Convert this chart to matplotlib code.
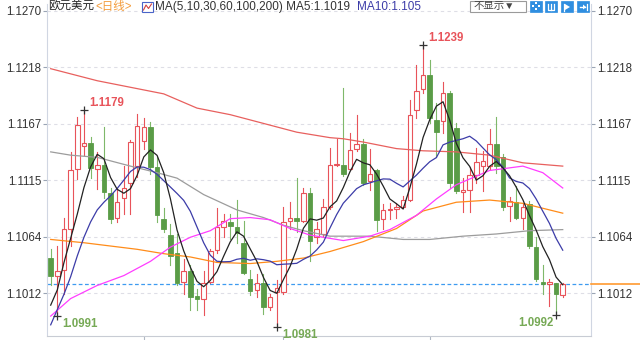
import matplotlib
matplotlib.use("Agg")
import matplotlib.pyplot as plt
from matplotlib.patches import Rectangle, Polygon
import numpy as np

plt.rcParams['font.family'] = ['Liberation Sans', 'Noto Sans CJK SC', 'DejaVu Sans']

# EUR/USD daily candles
opens = [1.1044, 1.1028, 1.1033, 1.1071, 1.1125, 1.1146, 1.1149, 1.1125, 1.1129, 1.1103,
         1.1081, 1.1099, 1.1113, 1.1128, 1.1151, 1.1164, 1.1127, 1.1080, 1.1065, 1.1049,
         1.1022, 1.1032, 1.1009, 1.1007, 1.1022, 1.1051, 1.1072, 1.1077, 1.1072, 1.1058,
         1.1025, 1.1015, 1.1021, 1.0999, 1.1013, 1.1013, 1.1078, 1.1081, 1.1078, 1.1103,
         1.1063, 1.1066, 1.1091, 1.1129, 1.1129, 1.1125, 1.1144, 1.1148, 1.1114, 1.1124,
         1.1080, 1.1088, 1.1089, 1.1091, 1.1097, 1.1179, 1.1198, 1.1211, 1.1170, 1.1169,
         1.1195, 1.1163, 1.1104, 1.1106, 1.1120, 1.1128, 1.1128, 1.1148, 1.1136, 1.1092,
         1.1095, 1.1081, 1.1093, 1.1054, 1.1022, 1.1020, 1.1021, 1.1010]
highs = [1.1052, 1.1055, 1.1081, 1.1141, 1.1173, 1.1179, 1.1155, 1.1141, 1.1164, 1.1108,
         1.1108, 1.1128, 1.1152, 1.1176, 1.1172, 1.1168, 1.1136, 1.1090, 1.1075, 1.1066,
         1.1043, 1.1038, 1.1016, 1.1032, 1.1052, 1.1090, 1.1084, 1.1084, 1.1097, 1.1078,
         1.1033, 1.1029, 1.1029, 1.1011, 1.1024, 1.1091, 1.1095, 1.1117, 1.1108, 1.1108,
         1.1077, 1.1098, 1.1145, 1.1153, 1.1199, 1.1158, 1.1175, 1.1153, 1.1144, 1.1125,
         1.1093, 1.1094, 1.1094, 1.1101, 1.1188, 1.1220, 1.1239, 1.1225, 1.1186, 1.1205,
         1.1197, 1.1167, 1.1117, 1.1127, 1.1145, 1.1142, 1.1162, 1.1173, 1.1139, 1.1100,
         1.1110, 1.1094, 1.1096, 1.1063, 1.1038, 1.1025, 1.1021, 1.1021]
lows = [1.1019, 1.0991, 1.1011, 1.1055, 1.1116, 1.1138, 1.1117, 1.1107, 1.1099, 1.1076,
        1.1077, 1.1084, 1.1084, 1.1118, 1.1144, 1.1121, 1.1077, 1.1068, 1.1038, 1.1019,
        1.1011, 1.0997, 1.0997, 1.0992, 1.1021, 1.1049, 1.1063, 1.1061, 1.1058, 1.1029,
        1.1010, 1.1008, 1.0993, 1.0997, 1.0981, 1.1011, 1.1071, 1.1068, 1.1077, 1.1041,
        1.1058, 1.1063, 1.1089, 1.1128, 1.1119, 1.1124, 1.1142, 1.1111, 1.1106, 1.1069,
        1.1071, 1.1080, 1.1081, 1.1090, 1.1096, 1.1172, 1.1195, 1.1167, 1.1136, 1.1158,
        1.1108, 1.1103, 1.1086, 1.1086, 1.1113, 1.1105, 1.1125, 1.1122, 1.1088, 1.1078,
        1.1080, 1.1071, 1.1053, 1.1023, 1.1011, 1.1000, 1.0992, 1.1008]
closes = [1.1028, 1.1032, 1.1071, 1.1124, 1.1166, 1.1149, 1.1126, 1.1129, 1.1104, 1.1080,
          1.1095, 1.1108, 1.1150, 1.1165, 1.1164, 1.1127, 1.1083, 1.1071, 1.1046, 1.1021,
          1.1032, 1.1008, 1.1007, 1.1021, 1.1050, 1.1072, 1.1078, 1.1073, 1.1067, 1.1030,
          1.1014, 1.1021, 1.0999, 1.1008, 1.1017, 1.1077, 1.1081, 1.1078, 1.1103, 1.1060,
          1.1071, 1.1091, 1.1129, 1.1130, 1.1121, 1.1143, 1.1148, 1.1113, 1.1121, 1.1079,
          1.1088, 1.1089, 1.1091, 1.1097, 1.1175, 1.1197, 1.1211, 1.1172, 1.1159, 1.1195,
          1.1113, 1.1105, 1.1106, 1.1120, 1.1132, 1.1133, 1.1148, 1.1128, 1.1091, 1.1096,
          1.1081, 1.1091, 1.1055, 1.1025, 1.1020, 1.1022, 1.1011, 1.1020]

# averages carried in from sessions before the first visible candle
ma5_head = [1.1001, 1.1015, 1.1040, 1.1062]
ma10_head = [1.0983, 1.0997, 1.1011, 1.1027, 1.1046, 1.1063, 1.1077, 1.1088, 1.1095]

# longer averages (candle index, value)
ma30_idx = [0, 3, 7, 11, 15, 18, 21, 24, 27, 30, 33, 36, 39, 44, 48, 51, 55, 58, 61, 66, 71, 74, 77]
ma30_val = [1.0991, 1.1007, 1.1019, 1.1028, 1.1041, 1.1054, 1.1063, 1.1069, 1.1080, 1.1081,
            1.1079, 1.1071, 1.1065, 1.1060, 1.1064, 1.1070, 1.1083, 1.1098, 1.1111, 1.1124,
            1.1128, 1.1122, 1.1108]
ma60_idx = [0, 5, 9, 13, 17, 21, 25, 30, 34, 38, 42, 47, 52, 56, 61, 66, 71, 77]
ma60_val = [1.1061, 1.1058, 1.1055, 1.1052, 1.1048, 1.1045, 1.1040, 1.1039, 1.1041, 1.1044,
            1.1050, 1.1059, 1.1071, 1.1087, 1.1095, 1.1097, 1.1094, 1.1085]
ma100_idx = [0, 3, 7, 12, 16, 19, 23, 28, 32, 35, 38, 42, 48, 53, 57, 62, 67, 72, 77]
ma100_val = [1.1141, 1.1138, 1.1136, 1.1128, 1.1122, 1.1117, 1.1102, 1.1088, 1.1081, 1.1074,
             1.1069, 1.1064, 1.1064, 1.1061, 1.1061, 1.1064, 1.1066, 1.1069, 1.1070]
ma200_idx = [0, 7, 12, 17, 22, 27, 32, 37, 42, 44, 47, 52, 56, 61, 66, 71, 77]
ma200_val = [1.1217, 1.1206, 1.1200, 1.1194, 1.1181, 1.1175, 1.1167, 1.1159, 1.1154, 1.1153,
             1.1150, 1.1144, 1.1142, 1.1141, 1.1138, 1.1131, 1.1128]

ytick_vals = [1.1270, 1.12184, 1.11668, 1.11152, 1.10636, 1.1012]
ytick_labels = ["1.1270", "1.1218", "1.1167", "1.1115", "1.1064", "1.1012"]
month_marks = [14, 35, 57]

title_name = "欧元美元"
title_period = "<日线>"
ma_legend = "MA(5,10,30,60,100,200) MA5:1.1019"
ma10_label = "MA10:1.105"
hide_label = "不显示▼"

RED = '#e8535a'
GREEN = '#5a9c47'
GREEN_WICK = '#7fb86a'

W, H = 640, 340
fig = plt.figure(figsize=(W / 100, H / 100), dpi=100, facecolor='white')
ax = fig.add_axes([47 / W, 4 / H, 544 / W, 332 / H])

n = len(closes)
ax.set_xlim(-0.556, 81.25)
ax.set_ylim(1.09728, 1.12761)

# grid
for v in ytick_vals:
    ax.axhline(v, color='#dedee6', lw=0.8, ls=(0, (3, 3)), zorder=0)

# candles
bw = 0.68
for i, (o, h, l, c) in enumerate(zip(opens, highs, lows, closes)):
    if c >= o:
        top, bot = c, o
        ax.add_patch(Rectangle((i - bw / 2, bot), bw, max(top - bot, 0.00004),
                               facecolor='white', edgecolor=RED, lw=0.8, zorder=2))
        ax.plot([i, i], [top, h], color=RED, lw=0.8, zorder=2)
        ax.plot([i, i], [l, bot], color=RED, lw=0.8, zorder=2)
    else:
        ax.plot([i, i], [l, h], color=GREEN_WICK, lw=0.8, zorder=2)
        ax.add_patch(Rectangle((i - bw / 2, c), bw, max(o - c, 0.00004),
                               facecolor=GREEN, edgecolor=GREEN, lw=0.6, zorder=2))

# moving averages
cl = np.array(closes)
ma5 = list(ma5_head) + [cl[i - 4:i + 1].mean() for i in range(4, n)]
ma10 = list(ma10_head) + [cl[i - 9:i + 1].mean() for i in range(9, n)]
idx = np.arange(n)
ax.plot(ma200_idx, ma200_val, color='#e8605e', lw=0.9, zorder=3)
ax.plot(ma100_idx, ma100_val, color='#9c9c9c', lw=0.9, zorder=3)
ax.plot(ma60_idx, ma60_val, color='#ff8c1a', lw=0.9, zorder=3)
ax.plot(ma30_idx, ma30_val, color='#ff3dff', lw=0.9, zorder=3)
ax.plot(idx, ma10, color='#3c3ca8', lw=0.9, zorder=3)
ax.plot(idx, ma5, color='#222222', lw=0.9, zorder=4)

# last price line
last = closes[-1]
ax.axhline(last, color='#3d9bf0', lw=0.9, ls=(0, (3, 2)), zorder=1)
ax.plot([81.3, 88.6], [last, last], color='#ff9a30', lw=1.2, clip_on=False, zorder=5)

# extreme markers and labels
px = 0.72
extremes = [
    (5, highs[5], "1.1179", RED, 'left', 5, 7.5),
    (56, highs[56], "1.1239", RED, 'left', 5, 6.7),
    (1, lows[1], "1.0991", '#76a955', 'left', 5, -7.5),
    (34, lows[34], "1.0981", '#76a955', 'left', 5, -7.5),
    (76, lows[76], "1.0992", '#76a955', 'right', -2, -8),
]
for i, v, txt, col, ha, dx, dy in extremes:
    ax.plot([i], [v], marker='+', ms=6, mew=0.9, color='#333333', zorder=5)
    ax.annotate(txt, xy=(i, v), xytext=(dx * px, dy * px), textcoords='offset points',
                ha=ha, va='center', fontsize=8.3, fontweight='bold', color=col,
                annotation_clip=False, zorder=6)

# axes styling
ax.set_yticks(ytick_vals)
ax.set_yticklabels(ytick_labels)
ax.tick_params(axis='y', which='major', direction='out', length=3, width=0.8, color='#9aa4b4',
               labelsize=8.3, labelcolor='#333333', left=True, right=True,
               labelleft=True, labelright=True, pad=1.2)
ax.set_xticks(month_marks)
ax.set_xticklabels([])
ax.tick_params(axis='x', direction='out', length=4, width=0.8, color='#b0b8c4')
for s in ['left', 'right']:
    ax.spines[s].set_color('#d0d6e2')
    ax.spines[s].set_linewidth(0.8)
ax.spines['bottom'].set_color('#c8ccd4')
ax.spines['bottom'].set_linewidth(0.8)
ax.spines['top'].set_visible(False)


# header
def fx(x):
    return x / W


def fy(y):
    return 1 - y / H


hy = fy(7)
fig.text(fx(48), hy, title_name, fontsize=8.3, color='#222222', va='center', ha='left')
fig.text(fx(95), hy, title_period, fontsize=8.3, color='#f39c3c', va='center', ha='left')
fig.text(fx(155), hy, ma_legend, fontsize=8.5, color='#333333', va='center', ha='left')
fig.text(fx(357), hy, ma10_label, fontsize=8.5, color='#3c3ca8', va='center', ha='left')

# indicator icon
fig.patches.append(Rectangle((fx(142), fy(12)), 11 / W, 10 / H, transform=fig.transFigure,
                             facecolor='white', edgecolor='#4a64c8', lw=0.8))
fig.lines.append(plt.Line2D([fx(143.5), fx(146), fx(148.5), fx(151.5)],
                            [fy(10), fy(5), fy(8.5), fy(4)], transform=fig.transFigure,
                            color='#d04040', lw=0.8))

# display toggle box
fig.patches.append(Rectangle((fx(470), fy(12)), 56 / W, 11 / H, transform=fig.transFigure,
                             facecolor='white', edgecolor='#9a9a9a', lw=0.8))
fig.text(fx(474), fy(6.5), hide_label, fontsize=7.5, color='#444444', va='center', ha='left')

# tool buttons
for x0 in [530, 545, 561, 577]:
    fig.patches.append(Rectangle((fx(x0), fy(12)), 12 / W, 11 / H, transform=fig.transFigure,
                                 facecolor='#2f8ee0', edgecolor='#2f8ee0', lw=0.5))
for ddx, ddy in [(0, -3), (0, 3), (-3, 0), (3, 0)]:
    fig.patches.append(Rectangle((fx(535 + ddx), fy(7 + ddy)), 1.6 / W, 1.6 / H,
                                 transform=fig.transFigure, facecolor='white', lw=0))
fig.lines.append(plt.Line2D([fx(548), fx(548), fx(554), fx(554)], [fy(4), fy(10), fy(10), fy(4)],
                            transform=fig.transFigure, color='white', lw=0.9))
fig.lines.append(plt.Line2D([fx(551), fx(551)], [fy(4), fy(10)],
                            transform=fig.transFigure, color='white', lw=0.9))
fig.patches.append(Polygon([(fx(565), fy(4)), (fx(565), fy(10)), (fx(570), fy(7))],
                           closed=True, transform=fig.transFigure, facecolor='white', lw=0))
fig.lines.append(plt.Line2D([fx(563.5), fx(563.5)], [fy(3.5), fy(10.5)],
                            transform=fig.transFigure, color='white', lw=0.9))
fig.lines.append(plt.Line2D([fx(580), fx(585)], [fy(7), fy(7)],
                            transform=fig.transFigure, color='white', lw=1.0))
fig.patches.append(Polygon([(fx(583), fy(4.5)), (fx(583), fy(9.5)), (fx(586), fy(7))],
                           closed=True, transform=fig.transFigure, facecolor='white', lw=0))
fig.lines.append(plt.Line2D([fx(587), fx(587)], [fy(4), fy(10)],
                            transform=fig.transFigure, color='white', lw=0.9))

fig.savefig('out.png', dpi=100, facecolor='white')
